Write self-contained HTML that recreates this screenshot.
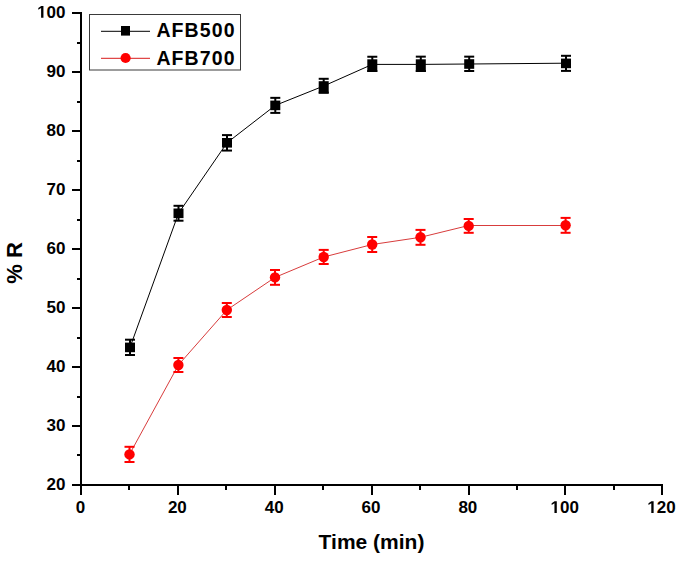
<!DOCTYPE html><html><head><meta charset="utf-8"><style>
html,body{margin:0;padding:0;background:#fff;width:685px;height:563px;overflow:hidden}
svg{display:block}
text{font-family:"Liberation Sans",sans-serif;font-weight:bold;fill:#000}
</style></head><body>
<svg width="685" height="563" viewBox="0 0 685 563">
<rect width="685" height="563" fill="#fff"/>
<g shape-rendering="crispEdges" fill="#000">
<rect x="80" y="12" width="2" height="483"/>
<rect x="72" y="484" width="591" height="2"/>
<rect x="72" y="484" width="8" height="2"/>
<rect x="72" y="425" width="8" height="2"/>
<rect x="72" y="366" width="8" height="2"/>
<rect x="72" y="307" width="8" height="2"/>
<rect x="72" y="248" width="8" height="2"/>
<rect x="72" y="189" width="8" height="2"/>
<rect x="72" y="130" width="8" height="2"/>
<rect x="72" y="71" width="8" height="2"/>
<rect x="72" y="12" width="8" height="2"/>
<rect x="77" y="454" width="3" height="2"/>
<rect x="77" y="396" width="3" height="2"/>
<rect x="77" y="337" width="3" height="2"/>
<rect x="77" y="278" width="3" height="2"/>
<rect x="77" y="219" width="3" height="2"/>
<rect x="77" y="160" width="3" height="2"/>
<rect x="77" y="101" width="3" height="2"/>
<rect x="77" y="42" width="3" height="2"/>
<rect x="80" y="486" width="2" height="9"/>
<rect x="177" y="486" width="2" height="9"/>
<rect x="274" y="486" width="2" height="9"/>
<rect x="371" y="486" width="2" height="9"/>
<rect x="468" y="486" width="2" height="9"/>
<rect x="564" y="486" width="2" height="9"/>
<rect x="661" y="486" width="2" height="9"/>
<rect x="128" y="486" width="2" height="4"/>
<rect x="225" y="486" width="2" height="4"/>
<rect x="322" y="486" width="2" height="4"/>
<rect x="419" y="486" width="2" height="4"/>
<rect x="516" y="486" width="2" height="4"/>
<rect x="613" y="486" width="2" height="4"/>
</g>
<text x="46.59" y="489.70" font-size="17">2</text><text x="56.05" y="489.70" font-size="17">0</text>
<text x="46.59" y="430.70" font-size="17">3</text><text x="56.05" y="430.70" font-size="17">0</text>
<text x="46.59" y="371.70" font-size="17">4</text><text x="56.05" y="371.70" font-size="17">0</text>
<text x="46.59" y="312.70" font-size="17">5</text><text x="56.05" y="312.70" font-size="17">0</text>
<text x="46.59" y="253.70" font-size="17">6</text><text x="56.05" y="253.70" font-size="17">0</text>
<text x="46.59" y="194.70" font-size="17">7</text><text x="56.05" y="194.70" font-size="17">0</text>
<text x="46.59" y="135.70" font-size="17">8</text><text x="56.05" y="135.70" font-size="17">0</text>
<text x="46.59" y="76.70" font-size="17">9</text><text x="56.05" y="76.70" font-size="17">0</text>
<path d="M41.10,17.70 L41.10,7.99 L38.30,9.74 L38.30,7.91 L41.23,6.00 L43.44,6.00 L43.44,17.70Z" fill="#000"/><text x="46.59" y="17.70" font-size="17">0</text><text x="56.05" y="17.70" font-size="17">0</text>
<text x="75.77" y="513.00" font-size="17">0</text>
<text x="167.88" y="513.00" font-size="17">2</text><text x="177.33" y="513.00" font-size="17">0</text>
<text x="264.71" y="513.00" font-size="17">4</text><text x="274.17" y="513.00" font-size="17">0</text>
<text x="361.55" y="513.00" font-size="17">6</text><text x="371.00" y="513.00" font-size="17">0</text>
<text x="458.38" y="513.00" font-size="17">8</text><text x="467.83" y="513.00" font-size="17">0</text>
<path d="M554.45,513.00 L554.45,503.29 L551.65,505.04 L551.65,503.21 L554.58,501.30 L556.79,501.30 L556.79,513.00Z" fill="#000"/><text x="559.94" y="513.00" font-size="17">0</text><text x="569.39" y="513.00" font-size="17">0</text>
<path d="M651.29,513.00 L651.29,503.29 L648.48,505.04 L648.48,503.21 L651.41,501.30 L653.62,501.30 L653.62,513.00Z" fill="#000"/><text x="656.77" y="513.00" font-size="17">2</text><text x="666.23" y="513.00" font-size="17">0</text>
<text x="371.5" y="549.3" font-size="21" text-anchor="middle">Time (min)</text>
<text transform="translate(22.2,263) rotate(-90)" x="0" y="0" font-size="22" text-anchor="middle">% R</text>
<polyline points="130.0,347.4 178.5,213.3 227.0,142.8 275.3,105.4 323.7,86.0 372.3,64.4 420.8,64.4 469.2,64.0 566.0,63.2" fill="none" stroke="#000" stroke-width="1"/>
<polyline points="129.5,454.4 178.4,365.0 226.8,310.0 275.0,277.4 323.7,257.0 372.2,244.5 420.5,237.3 468.7,225.5 565.6,225.5" fill="none" stroke="#d83c3c" stroke-width="1"/>
<g fill="#000"><rect x="125.0" y="338.70" width="10" height="2"/><rect x="125.0" y="354.00" width="10" height="2"/><rect x="129.0" y="339.70" width="2" height="15.30"/><rect x="125.0" y="342.6" width="10" height="9.60"/></g>
<g fill="#000"><rect x="173.5" y="204.80" width="10" height="2"/><rect x="173.5" y="219.70" width="10" height="2"/><rect x="177.5" y="205.80" width="2" height="14.90"/><rect x="173.5" y="208.5" width="10" height="9.60"/></g>
<g fill="#000"><rect x="222.0" y="134.10" width="10" height="2"/><rect x="222.0" y="149.55" width="10" height="2"/><rect x="226.0" y="135.10" width="2" height="15.45"/><rect x="222.0" y="138.0" width="10" height="9.60"/></g>
<g fill="#000"><rect x="270.3" y="96.85" width="10" height="2"/><rect x="270.3" y="111.90" width="10" height="2"/><rect x="274.3" y="97.85" width="2" height="15.05"/><rect x="270.3" y="100.6" width="10" height="9.60"/></g>
<g fill="#000"><rect x="318.7" y="77.80" width="10" height="2"/><rect x="318.7" y="91.60" width="10" height="2"/><rect x="322.7" y="78.80" width="2" height="13.80"/><rect x="318.7" y="81.2" width="10" height="12.40"/></g>
<g fill="#000"><rect x="367.3" y="55.75" width="10" height="2"/><rect x="367.3" y="70.00" width="10" height="2"/><rect x="371.3" y="56.75" width="2" height="14.25"/><rect x="367.3" y="59.3" width="10" height="12.70"/></g>
<g fill="#000"><rect x="415.8" y="55.65" width="10" height="2"/><rect x="415.8" y="70.00" width="10" height="2"/><rect x="419.8" y="56.65" width="2" height="14.35"/><rect x="415.8" y="59.3" width="10" height="12.70"/></g>
<g fill="#000"><rect x="464.2" y="55.65" width="10" height="2"/><rect x="464.2" y="70.00" width="10" height="2"/><rect x="468.2" y="56.65" width="2" height="14.35"/><rect x="464.2" y="59.2" width="10" height="9.60"/></g>
<g fill="#000"><rect x="561.0" y="54.80" width="10" height="2"/><rect x="561.0" y="69.90" width="10" height="2"/><rect x="565.0" y="55.80" width="2" height="15.10"/><rect x="561.0" y="58.6" width="10" height="9.60"/></g>
<g fill="#f00"><rect x="124.5" y="445.80" width="10" height="2"/><rect x="124.5" y="461.00" width="10" height="2"/><rect x="128.5" y="446.80" width="2" height="15.20"/><circle cx="129.5" cy="454.4" r="5.2"/></g>
<g fill="#f00"><rect x="173.4" y="357.00" width="10" height="2"/><rect x="173.4" y="371.00" width="10" height="2"/><rect x="177.4" y="358.00" width="2" height="14.00"/><circle cx="178.4" cy="365.0" r="5.2"/></g>
<g fill="#f00"><rect x="221.8" y="302.00" width="10" height="2"/><rect x="221.8" y="316.00" width="10" height="2"/><rect x="225.8" y="303.00" width="2" height="14.00"/><circle cx="226.8" cy="310.0" r="5.2"/></g>
<g fill="#f00"><rect x="270.0" y="269.00" width="10" height="2"/><rect x="270.0" y="283.80" width="10" height="2"/><rect x="274.0" y="270.00" width="2" height="14.80"/><circle cx="275.0" cy="277.4" r="5.2"/></g>
<g fill="#f00"><rect x="318.7" y="248.90" width="10" height="2"/><rect x="318.7" y="263.00" width="10" height="2"/><rect x="322.7" y="249.90" width="2" height="14.10"/><circle cx="323.7" cy="257.0" r="5.2"/></g>
<g fill="#f00"><rect x="367.2" y="236.00" width="10" height="2"/><rect x="367.2" y="251.00" width="10" height="2"/><rect x="371.2" y="237.00" width="2" height="15.00"/><circle cx="372.2" cy="244.5" r="5.2"/></g>
<g fill="#f00"><rect x="415.5" y="228.90" width="10" height="2"/><rect x="415.5" y="243.80" width="10" height="2"/><rect x="419.5" y="229.90" width="2" height="14.90"/><circle cx="420.5" cy="237.3" r="5.2"/></g>
<g fill="#f00"><rect x="463.7" y="218.00" width="10" height="2"/><rect x="463.7" y="231.80" width="10" height="2"/><rect x="467.7" y="219.00" width="2" height="13.80"/><circle cx="468.7" cy="225.9" r="5.2"/></g>
<g fill="#f00"><rect x="560.6" y="216.90" width="10" height="2"/><rect x="560.6" y="231.80" width="10" height="2"/><rect x="564.6" y="217.90" width="2" height="14.90"/><circle cx="565.6" cy="225.3" r="5.2"/></g>
<rect x="89.5" y="14.5" width="151" height="55.5" fill="#fff" stroke="#3a3a3a" stroke-width="1"/>
<line x1="101" y1="31.4" x2="150" y2="31.4" stroke="#333" stroke-width="1.1"/>
<rect x="121" y="26" width="9" height="9.6" fill="#000"/>
<line x1="101" y1="58.4" x2="150" y2="58.4" stroke="#e04848" stroke-width="1.1"/>
<circle cx="125.6" cy="58" r="5.1" fill="#f00"/>
<text x="156.4" y="37.2" font-size="19.5" letter-spacing="1.1">AFB500</text>
<text x="156.4" y="64.7" font-size="19.5" letter-spacing="1.1">AFB700</text>
</svg></body></html>
